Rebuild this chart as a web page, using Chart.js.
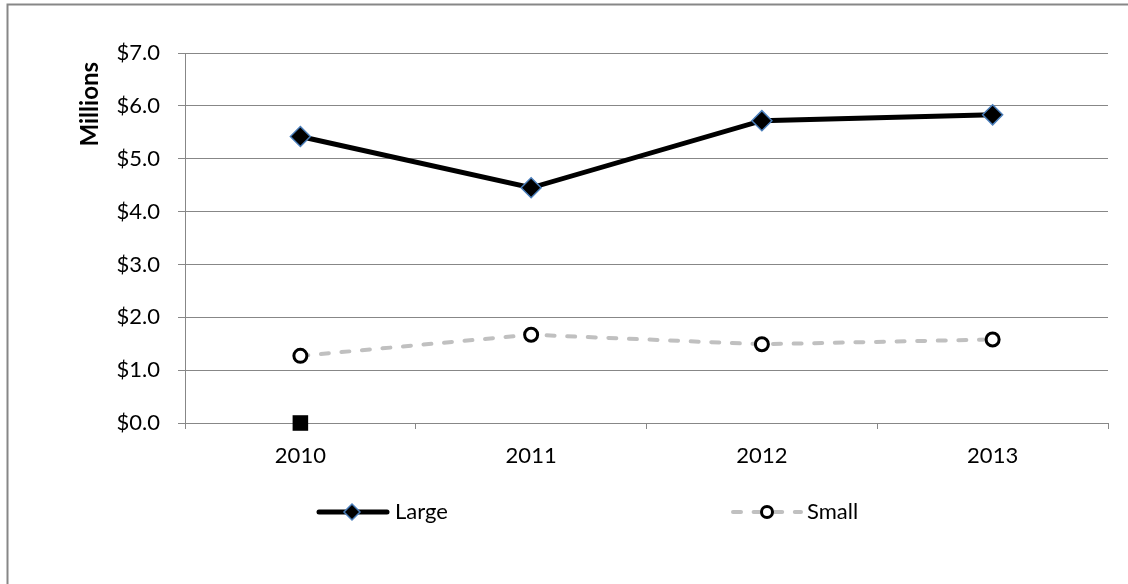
<!DOCTYPE html>
<html>
<head>
<meta charset="utf-8">
<script src="https://cdn.jsdelivr.net/npm/chart.js@4/dist/chart.umd.min.js"></script>
<style>
  body { margin: 0; background: #fff; }
  #wrap { width: 1128px; height: 584px; }
</style>
</head>
<body>
<div id="wrap"><canvas id="chart" width="1128" height="584"></canvas></div>
<script>
// yearly totals, in millions of dollars
const years = ['2010', '2011', '2012', '2013'];
const large = [5.42, 4.45, 5.72, 5.83];
const small = [1.27, 1.67, 1.49, 1.58];
const stray = [0, null, null, null];

const FONT = 'Lato';
const GRID = '#878787';

// frame, axis title and the line/marker legend under the plot
const extras = {
    id: 'extras',
    beforeDraw(chart) {
        const g = chart.ctx;
        g.save();
        g.strokeStyle = GRID;
        g.lineWidth = 2;
        g.beginPath();
        g.moveTo(7.5, 584);
        g.lineTo(7.5, 4.5);
        g.lineTo(1128, 4.5);
        g.stroke();
        g.restore();
    },
    afterDraw(chart) {
        const g = chart.ctx;
        g.save();

        g.fillStyle = '#000';
        g.font = 'bold 24px ' + FONT;
        g.translate(90, 62);
        g.rotate(-Math.PI / 2);
        g.textAlign = 'right';
        g.textBaseline = 'middle';
        g.fillText('Millions', 0, 0);
        g.setTransform(1, 0, 0, 1, 0, 0);

        const y = 512;
        const ds = chart.data.datasets;

        // Large
        g.strokeStyle = ds[0].borderColor;
        g.lineWidth = 5;
        g.lineCap = 'round';
        g.beginPath(); g.moveTo(319, y); g.lineTo(387, y); g.stroke();
        g.beginPath();
        g.moveTo(352 - 8, y); g.lineTo(352, y - 8); g.lineTo(352 + 8, y); g.lineTo(352, y + 8);
        g.closePath();
        g.fillStyle = '#000';
        g.fill();
        g.strokeStyle = ds[0].pointBorderColor;
        g.lineWidth = 1.5;
        g.stroke();

        // Small
        g.strokeStyle = ds[1].borderColor;
        g.lineWidth = 4;
        g.setLineDash(ds[1].borderDash);
        g.beginPath(); g.moveTo(733, y); g.lineTo(801, y); g.stroke();
        g.setLineDash([]);
        g.beginPath(); g.arc(767, y, 5.5, 0, Math.PI * 2);
        g.fillStyle = '#fff';
        g.fill();
        g.strokeStyle = '#000';
        g.lineWidth = 3;
        g.stroke();

        g.fillStyle = '#000';
        g.font = '22px ' + FONT;
        g.textAlign = 'left';
        g.textBaseline = 'middle';
        g.fillText(ds[0].label, 395, y);
        g.fillText(ds[1].label, 807, y);
        g.restore();
    }
};

new Chart(document.getElementById('chart'), {
    type: 'line',
    data: {
        labels: years,
        datasets: [
            {
                label: 'Large',
                data: large,
                borderColor: '#000',
                borderWidth: 5,
                pointStyle: 'rectRot',
                pointRadius: 10,
                pointBackgroundColor: '#000',
                pointBorderColor: '#4a7ebb',
                pointBorderWidth: 1.5,
                tension: 0,
                clip: false
            },
            {
                label: 'Small',
                data: small,
                borderColor: '#c0c0c0',
                borderWidth: 4,
                borderDash: [8, 12.6],
                borderCapStyle: 'round',
                pointStyle: 'circle',
                pointRadius: 6.5,
                pointBackgroundColor: '#fff',
                pointBorderColor: '#000',
                pointBorderWidth: 3,
                tension: 0,
                clip: false
            },
            {
                label: 'Series3',
                data: stray,
                showLine: false,
                pointStyle: 'rect',
                pointRadius: 11,
                pointBackgroundColor: '#000',
                pointBorderColor: '#000',
                pointBorderWidth: 0,
                clip: false
            }
        ]
    },
    options: {
        responsive: false,
        animation: false,
        layout: { padding: { top: 53, right: 20, left: 0, bottom: 0 } },
        plugins: {
            legend: { display: false },
            tooltip: { enabled: false }
        },
        scales: {
            x: {
                offset: true,
                grid: { offset: true, drawOnChartArea: false, tickLength: 6, color: GRID },
                border: { color: GRID },
                ticks: { color: '#000', font: { family: FONT, size: 22 }, padding: 14 },
                afterFit(scale) { scale.height = 161; }
            },
            y: {
                min: 0,
                max: 7,
                grid: { color: GRID, tickLength: 7 },
                border: { color: GRID },
                ticks: {
                    stepSize: 1,
                    color: '#000',
                    padding: 18,
                    font: { family: FONT, size: 22 },
                    callback: v => '$' + v.toFixed(1)
                },
                afterFit(scale) { scale.width = 185; }
            }
        }
    },
    plugins: [extras]
});
</script>
</body>
</html>
